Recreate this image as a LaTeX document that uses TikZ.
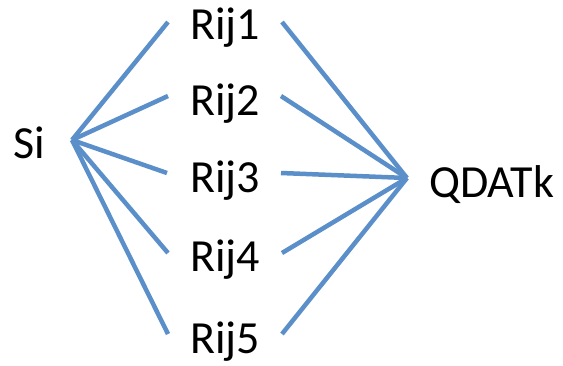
\documentclass[tikz,border=0pt]{standalone}
\usepackage{fontspec}
\setmainfont{Carlito}
\definecolor{linkblue}{RGB}{91,143,201}
\begin{document}
\begin{tikzpicture}[x=1pt,y=-1pt,
  lbl/.style={anchor=base west,inner sep=0pt,font=\fontsize{46}{52}\selectfont},
  link/.style={draw=linkblue,line width=4.5pt}]
\useasboundingbox (0,0) rectangle (563,365);
\node[lbl] (si) at (13,158) {Si};
\node[lbl] (r1) at (190,39) {Rij1};
\node[lbl] (r2) at (190,115) {Rij2};
\node[lbl] (r3) at (190,192) {Rij3};
\node[lbl] (r4) at (190,271) {Rij4};
\node[lbl] (r5) at (190,353) {Rij5};
\node[lbl] (q) at (429,197) {QDATk};
\coordinate (hl) at (72,140);
\coordinate (hr) at (407,178);
\coordinate (a1) at (168,22);
\coordinate (a2) at (168,96);
\coordinate (a3) at (167,173);
\coordinate (a4) at (168,253);
\coordinate (a5) at (168,334);
\coordinate (b1) at (282,22);
\coordinate (b2) at (281,96);
\coordinate (b3) at (281,173);
\coordinate (b4) at (282,253);
\coordinate (b5) at (282,334);
\foreach \i in {1,...,5}{
  \draw[link] (hl) -- (a\i);
  \draw[link] (b\i) -- (hr);
}
\end{tikzpicture}
\end{document}
